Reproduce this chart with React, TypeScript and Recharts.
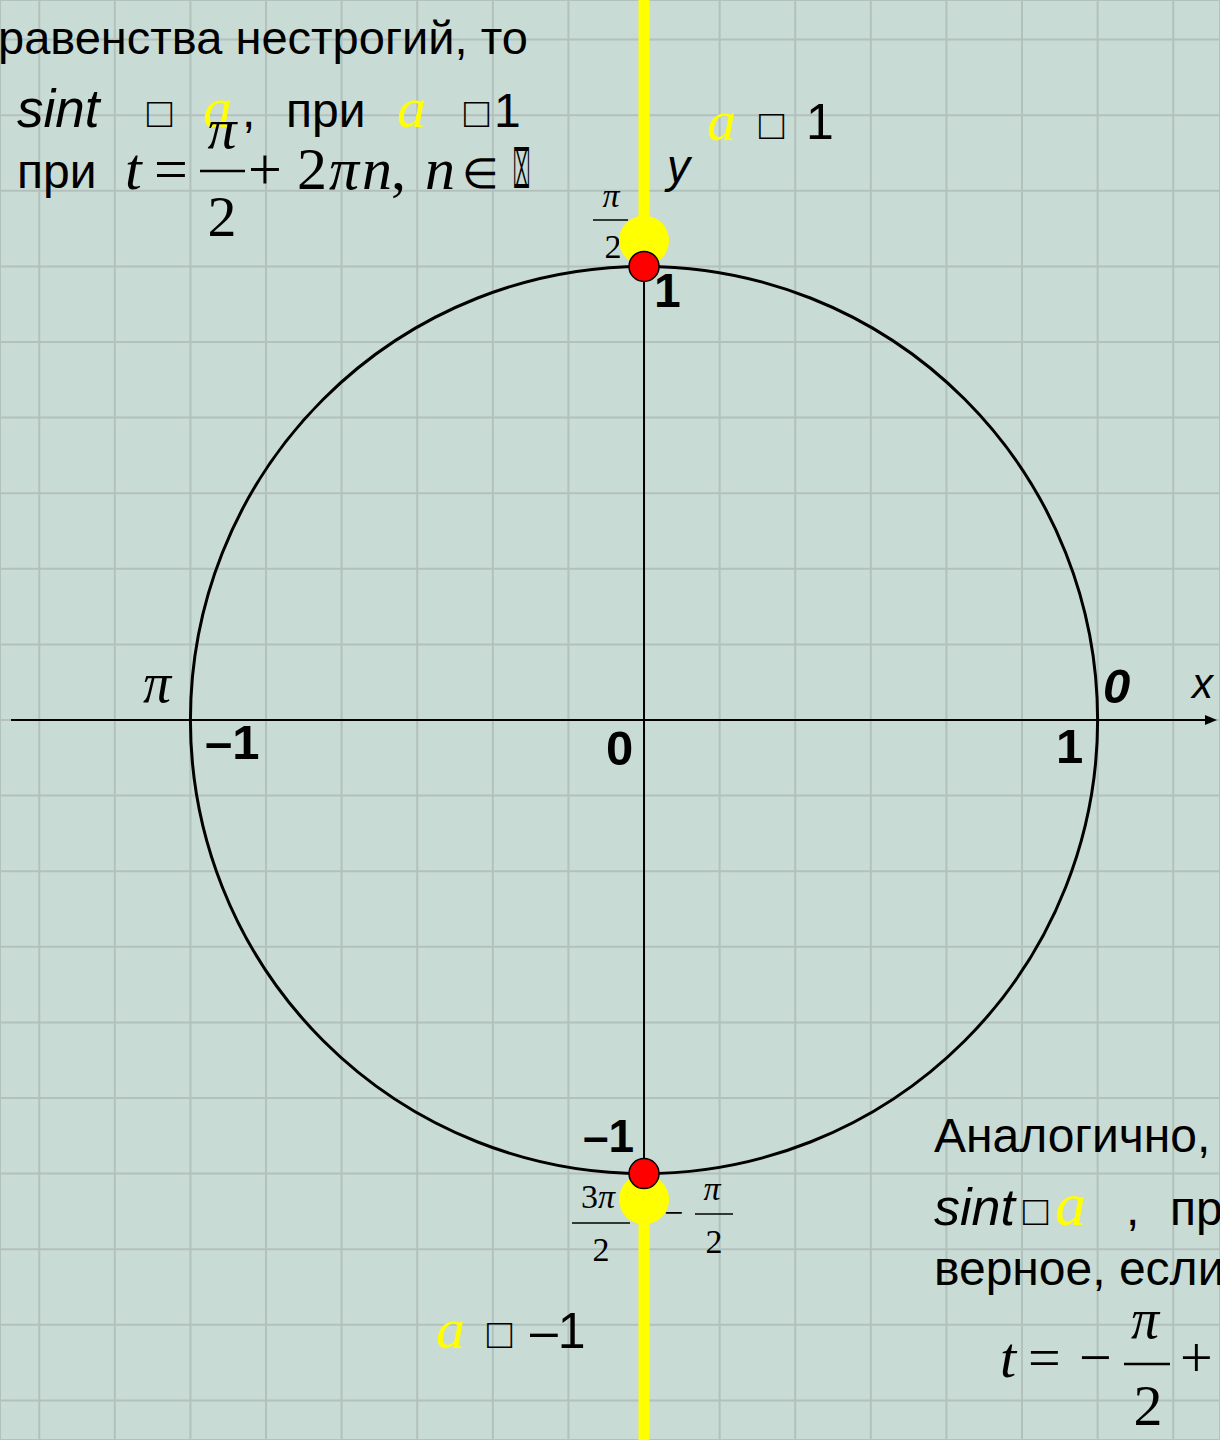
import { ComposedChart, Scatter, XAxis, YAxis, CartesianGrid } from 'recharts';

// unit circle, 1 unit = 6 grid cells
const X_DOMAIN = [-1.4198, 1.2698];
const Y_DOMAIN = [-1.5873, 1.5873];
const GRID_X = [-1.3333, -1.1667, -1, -0.8333, -0.6667, -0.5, -0.3333, -0.1667, 0, 0.1667, 0.3333, 0.5, 0.6667, 0.8333, 1, 1.1667];
const GRID_Y = [-1.5, -1.3333, -1.1667, -1, -0.8333, -0.6667, -0.5, -0.3333, -0.1667, 0, 0.1667, 0.3333, 0.5, 0.6667, 0.8333, 1, 1.1667, 1.3333, 1.5];

// points 0, π/2, π, 3π/2 on the circle
const CIRCLE_POINTS = [
  { x: 1, y: 0 },
  { x: 0, y: 1 },
  { x: -1, y: 0 },
  { x: 0, y: -1 },
];
const X_AXIS_POINTS = [
  { x: -1.3955, y: 0 },
  { x: 1.2632, y: 0 },
];
const Y_AXIS_POINTS = [
  { x: 0, y: -1 },
  { x: 0, y: 1 },
];
const YELLOW_UP = [
  { x: 0, y: 1 },
  { x: 0, y: 1.5873 },
];
const YELLOW_DOWN = [
  { x: 0, y: -1 },
  { x: 0, y: -1.5873 },
];
const YELLOW_POINTS = [
  { x: 0, y: 1.057 },
  { x: 0, y: -1.057 },
];
const RED_POINTS = [
  { x: 0, y: 1 },
  { x: 0, y: -1 },
];

const SANS = "'Liberation Sans', Arial, sans-serif";
const SERIF = "'Liberation Serif', 'Times New Roman', serif";
const YELLOW = '#ffff00';
const BG = '#c9dbd5';
const W = 1220;
const H = 1440;
const MARGIN = { top: 0, right: 0, bottom: 0, left: 0 };

// d3-style curve factory: draws the circle through the given points
function circleThrough(context: any) {
  let pts: [number, number][] = [];
  return {
    areaStart() {},
    areaEnd() {},
    lineStart() {
      pts = [];
    },
    lineEnd() {
      if (!pts.length) return;
      const cx = pts.reduce((s, p) => s + p[0], 0) / pts.length;
      const cy = pts.reduce((s, p) => s + p[1], 0) / pts.length;
      const r = Math.hypot(pts[0][0] - cx, pts[0][1] - cy);
      context.moveTo(cx + r, cy);
      context.arc(cx, cy, r, 0, 2 * Math.PI);
    },
    point(x: number, y: number) {
      pts.push([x, y]);
    },
  };
}

const Nothing = () => <g />;
const YellowDot = (p: any) => <circle cx={p.cx} cy={p.cy} r={25} fill={YELLOW} />;
const RedDot = (p: any) => <circle cx={p.cx} cy={p.cy} r={15} fill="#ff0000" stroke="#000" strokeWidth={1.5} />;

const ArrowLine = (p: any) => {
  const pts = p.points || [];
  if (pts.length < 2) return <g />;
  const a = pts[0];
  const b = pts[1];
  return (
    <g>
      <line x1={a.x} y1={a.y} x2={b.x - 8} y2={b.y} stroke="#000" strokeWidth={2} />
      <path d={`M${b.x},${b.y} l-12,-5 v10 z`} fill="#000" />
    </g>
  );
};

const axes = [
  <XAxis key="x" type="number" dataKey="x" domain={X_DOMAIN} ticks={GRID_X} allowDataOverflow hide />,
  <YAxis key="y" type="number" dataKey="y" domain={Y_DOMAIN} ticks={GRID_Y} allowDataOverflow hide />,
];

function Texts() {
  return (
    <svg width={W} height={H} style={{ position: 'absolute', left: 0, top: 0 }}>
      {/* top-left */}
      <text x={-2} y={54} fontFamily={SANS} fontSize={47}>равенства нестрогий, то</text>
      <text x={17} y={127} fontFamily={SANS} fontSize={53} fontStyle="italic">sint</text>
      <text x={147} y={127} fontFamily={SANS} fontSize={42}>□</text>
      <text x={203} y={127} fontFamily={SERIF} fontSize={58} fontStyle="italic" fill={YELLOW}>a</text>
      <text x={242} y={127} fontFamily={SANS} fontSize={48}>,</text>
      <text x={286} y={127} fontFamily={SANS} fontSize={48}>при</text>
      <text x={397} y={127} fontFamily={SERIF} fontSize={58} fontStyle="italic" fill={YELLOW}>a</text>
      <text x={464} y={127} fontFamily={SANS} fontSize={42}>□</text>
      <text x={494} y={127} fontFamily={SANS} fontSize={48}>1</text>
      <text x={17} y={188} fontFamily={SANS} fontSize={48}>при</text>
      <text x={125} y={189} fontFamily={SERIF} fontSize={60} fontStyle="italic">t</text>
      <text x={154} y={189} fontFamily={SERIF} fontSize={60}>=</text>
      <text x={222} y={148} textAnchor="middle" fontFamily={SERIF} fontSize={58} fontStyle="italic">π</text>
      <line x1={200} x2={245} y1={171} y2={171} stroke="#000" strokeWidth={2.5} />
      <text x={222} y={236} textAnchor="middle" fontFamily={SERIF} fontSize={58}>2</text>
      <text x={248} y={189} fontFamily={SERIF} fontSize={60}>+</text>
      <text x={297} y={189} fontFamily={SERIF} fontSize={60}>2</text>
      <text x={329} y={189} fontFamily={SERIF} fontSize={60} fontStyle="italic">π</text>
      <text x={362} y={189} fontFamily={SERIF} fontSize={60} fontStyle="italic">n</text>
      <text x={391} y={189} fontFamily={SERIF} fontSize={60}>,</text>
      <text x={425} y={189} fontFamily={SERIF} fontSize={60} fontStyle="italic">n</text>
      <text x={462} y={188} fontFamily={SERIF} fontSize={42}>∈</text>
      <text x={513} y={188} fontFamily={SANS} fontSize={54} textLength={17} lengthAdjust="spacingAndGlyphs">⌧</text>

      {/* a >= 1 */}
      <text x={707} y={140} fontFamily={SERIF} fontSize={58} fontStyle="italic" fill={YELLOW}>a</text>
      <text x={759} y={139} fontFamily={SANS} fontSize={42}>□</text>
      <text x={806} y={139} fontFamily={SANS} fontSize={50}>1</text>
      <text x={667} y={182} fontFamily={SANS} fontSize={46} fontStyle="italic">y</text>

      {/* π/2 */}
      <text x={611} y={207} textAnchor="middle" fontFamily={SERIF} fontSize={34} fontStyle="italic">π</text>
      <line x1={593} x2={628} y1={220} y2={220} stroke="#000" strokeWidth={1.5} />
      <text x={613} y={258} textAnchor="middle" fontFamily={SERIF} fontSize={34}>2</text>
      <text x={654} y={307} fontFamily={SANS} fontSize={48} fontWeight="bold">1</text>

      {/* x axis labels */}
      <text x={143} y={702} fontFamily={SERIF} fontSize={56} fontStyle="italic">π</text>
      <text x={205} y={759} fontFamily={SANS} fontSize={49} fontWeight="bold">–1</text>
      <text x={606} y={765} fontFamily={SANS} fontSize={49} fontWeight="bold">0</text>
      <text x={1056} y={763} fontFamily={SANS} fontSize={49} fontWeight="bold">1</text>
      <text x={1103} y={703} fontFamily={SANS} fontSize={49} fontWeight="bold" fontStyle="italic">0</text>
      <text x={1192} y={698} fontFamily={SANS} fontSize={42} fontStyle="italic">x</text>

      {/* bottom point */}
      <text x={583} y={1152} fontFamily={SANS} fontSize={46} fontWeight="bold">–1</text>
      <text x={598} y={1208} textAnchor="middle" fontFamily={SERIF} fontSize={34}>
        3<tspan fontStyle="italic">π</tspan>
      </text>
      <line x1={572} x2={630} y1={1223} y2={1223} stroke="#000" strokeWidth={1.5} />
      <text x={601} y={1261} textAnchor="middle" fontFamily={SERIF} fontSize={34}>2</text>
      <text x={664} y={1224} fontFamily={SERIF} fontSize={34}>−</text>
      <text x={712} y={1200} textAnchor="middle" fontFamily={SERIF} fontSize={34} fontStyle="italic">π</text>
      <line x1={695} x2={733} y1={1214} y2={1214} stroke="#000" strokeWidth={1.5} />
      <text x={714} y={1253} textAnchor="middle" fontFamily={SERIF} fontSize={34}>2</text>

      {/* a <= -1 */}
      <text x={436} y={1348} fontFamily={SERIF} fontSize={58} fontStyle="italic" fill={YELLOW}>a</text>
      <text x={487} y={1348} fontFamily={SANS} fontSize={42}>□</text>
      <text x={530} y={1348} fontFamily={SANS} fontSize={50}>–1</text>

      {/* bottom right */}
      <text x={934} y={1152} fontFamily={SANS} fontSize={48}>Аналогично,</text>
      <text x={934} y={1225} fontFamily={SANS} fontSize={52} fontStyle="italic">sint</text>
      <text x={1023} y={1225} fontFamily={SANS} fontSize={42}>□</text>
      <text x={1055} y={1225} fontFamily={SERIF} fontSize={62} fontStyle="italic" fill={YELLOW}>a</text>
      <text x={1126} y={1225} fontFamily={SANS} fontSize={48}>,</text>
      <text x={1170} y={1225} fontFamily={SANS} fontSize={48}>пр</text>
      <text x={934} y={1285} fontFamily={SANS} fontSize={48}>верное, если</text>
      <text x={1000} y={1377} fontFamily={SERIF} fontSize={58} fontStyle="italic">t</text>
      <text x={1028} y={1377} fontFamily={SERIF} fontSize={58}>=</text>
      <text x={1079} y={1377} fontFamily={SERIF} fontSize={58}>−</text>
      <text x={1145} y={1338} textAnchor="middle" fontFamily={SERIF} fontSize={56} fontStyle="italic">π</text>
      <line x1={1124} x2={1170} y1={1364} y2={1364} stroke="#000" strokeWidth={2.5} />
      <text x={1148} y={1425} textAnchor="middle" fontFamily={SERIF} fontSize={58}>2</text>
      <text x={1180} y={1377} fontFamily={SERIF} fontSize={58}>+</text>
    </svg>
  );
}

export default function App() {
  return (
    <div style={{ position: 'relative', width: W, height: H, background: BG, overflow: 'hidden' }}>
      <style>{`body{margin:0}`}</style>
      {/* grid paper */}
      <div style={{ position: 'absolute', left: 0, top: 0 }}>
        <ComposedChart width={W} height={H} margin={MARGIN}>
          <CartesianGrid stroke="#b2c1bc" strokeWidth={2} />
          {axes}
        </ComposedChart>
      </div>
      <Texts />
      {/* circle, axes and points */}
      <div style={{ position: 'absolute', left: 0, top: 0 }}>
        <ComposedChart width={W} height={H} margin={MARGIN}>
          {axes}
          <Scatter data={X_AXIS_POINTS} line={ArrowLine} shape={Nothing} isAnimationActive={false} />
          <Scatter
            data={CIRCLE_POINTS}
            line={{ stroke: '#000', strokeWidth: 3 }}
            lineJointType={circleThrough as any}
            shape={Nothing}
            isAnimationActive={false}
          />
          <Scatter data={Y_AXIS_POINTS} line={{ stroke: '#000', strokeWidth: 2 }} lineJointType="linear" shape={Nothing} isAnimationActive={false} />
          <Scatter data={YELLOW_UP} line={{ stroke: YELLOW, strokeWidth: 11 }} lineJointType="linear" shape={Nothing} isAnimationActive={false} />
          <Scatter data={YELLOW_DOWN} line={{ stroke: YELLOW, strokeWidth: 11 }} lineJointType="linear" shape={Nothing} isAnimationActive={false} />
          <Scatter data={YELLOW_POINTS} shape={YellowDot} isAnimationActive={false} />
          <Scatter data={RED_POINTS} shape={RedDot} isAnimationActive={false} />
        </ComposedChart>
      </div>
    </div>
  );
}
